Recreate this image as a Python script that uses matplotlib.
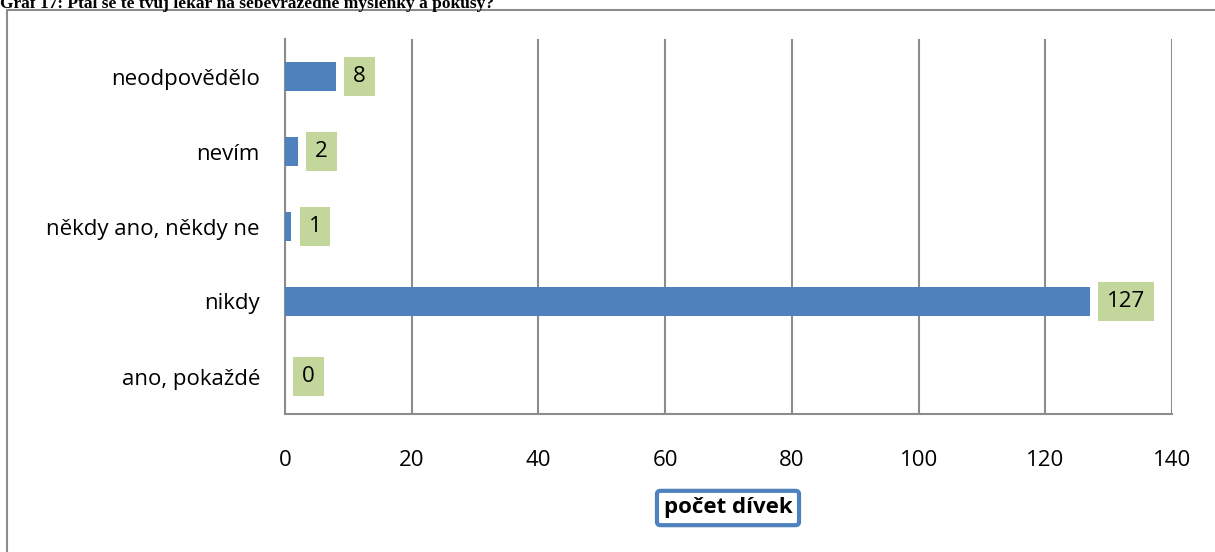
import matplotlib
matplotlib.use("Agg")
import matplotlib.pyplot as plt
from matplotlib.patches import Rectangle

categories = ["ano, pokaždé", "nikdy", "někdy ano, někdy ne", "nevím", "neodpovědělo"]
counts = [0, 127, 1, 2, 8]
x_ticks = [0, 20, 40, 60, 80, 100, 120, 140]
title = "Graf 17: Ptal se tě tvůj lékař na sebevražedné myšlenky a pokusy?"
x_label = "počet dívek"

W, H = 1215, 552
fig = plt.figure(figsize=(W / 100, H / 100), dpi=100)
font = "Open Sans"
fs = 16

# outer chart frame (runs past the right and bottom edges)
fig.patches.append(Rectangle((7 / W, -0.05), 1.05, 1.05 - 10 / H,
                             transform=fig.transFigure, fill=False,
                             edgecolor="#8c8c8c", linewidth=1.5))

# caption above the frame
fig.text(0.0, 1 - 8 / H, title, family="Liberation Serif", weight="bold",
         fontsize=12.5, ha="left", va="baseline")

ax = fig.add_axes([285 / W, 1 - 414 / H, (1172 - 285) / W, (414 - 39) / H])
ypos = list(range(len(categories)))
ax.barh(ypos, counts, height=0.39, color="#4f81bd", zorder=3)
ax.set_xlim(0, 140)
ax.set_ylim(-0.5, len(categories) - 0.5)
ax.set_xticks(x_ticks)
ax.set_xticklabels([str(t) for t in x_ticks], family=font, fontsize=fs)
ax.set_yticks(ypos)
ax.set_yticklabels(categories, family=font, fontsize=fs)
ax.tick_params(length=0)
ax.tick_params(axis="y", pad=18)
ax.tick_params(axis="x", pad=26)
ax.xaxis.grid(True, color="#8c8c8c", linewidth=1.5, zorder=0)
for s in ["top", "right"]:
    ax.spines[s].set_visible(False)
for s in ["left", "bottom"]:
    ax.spines[s].set_color("#8c8c8c")
    ax.spines[s].set_linewidth(1.5)

# value labels in green boxes
for y, v in zip(ypos, counts):
    ax.annotate(str(v), (v, y), xytext=(12.5, 0), textcoords="offset points",
                ha="left", va="center", family=font, fontsize=fs, zorder=4,
                bbox=dict(boxstyle="square,pad=0.4", facecolor="#c3d69b",
                          edgecolor="none"))

fig.text(728 / W, 1 - 508 / H, x_label, family=font, weight="bold",
         fontsize=fs, ha="center", va="center",
         bbox=dict(boxstyle="round,pad=0.3,rounding_size=0.15",
                   facecolor="white", edgecolor="#4f81bd", linewidth=3))

fig.savefig("out.png", dpi=100)
